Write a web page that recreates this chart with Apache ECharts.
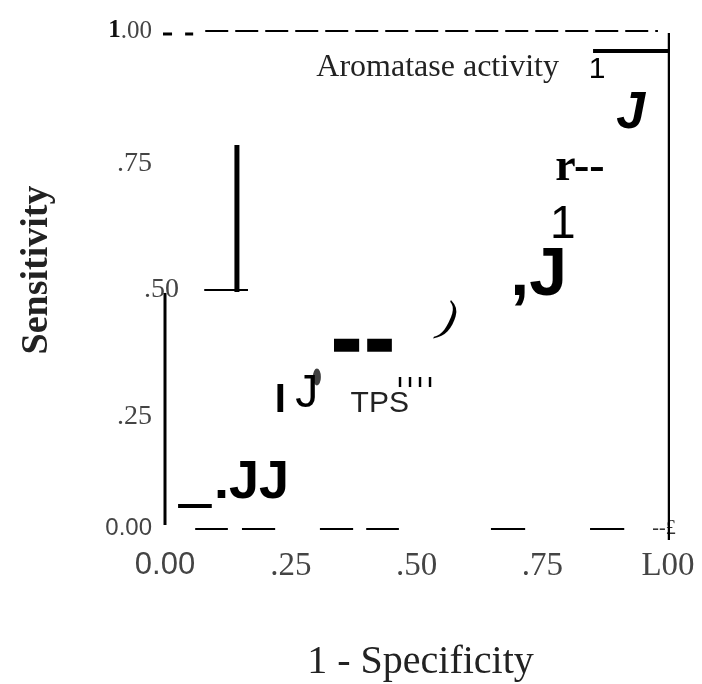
<!DOCTYPE html>
<html>
<head>
<meta charset="utf-8">
<script src="https://cdn.jsdelivr.net/npm/echarts@6/dist/echarts.min.js"></script>
<style>
  html, body { margin: 0; padding: 0; background: #fff; }
  #chart { width: 702px; height: 684px; }
</style>
</head>
<body>
<div id="chart"></div>
<script>
// tick labels as printed in the scan
const xTickLabels = ['0.00', '.25', '.50', '.75', 'L00'];
const yTickLabels = ['0.00', '.25', '.50', '.75', '1.00'];

// step pieces of the curve [x, y]
const stemLeft = [[0, 0.008], [0, 0.474]];
const baseDash = [[0.026, 0.046], [0.093, 0.046]];
const stemMid = [[0.143, 0.476], [0.143, 0.771]];
const shelfMid = [[0.078, 0.480], [0.165, 0.480]];
const thickDashA = [[0.336, 0.369], [0.386, 0.369]];
const thickDashB = [[0.402, 0.369], [0.451, 0.369]];
const stemRight = [[1.002, -0.022], [1.002, 0.996]];
const topBar = [[0.851, 0.960], [1.012, 0.960]];
const topTick = [[1.006, 0.988], [1.020, 0.988]];
const topShortA = [[-0.004, 0.994], [0.014, 0.994]];
const topShortB = [[0.040, 0.994], [0.056, 0.994]];
const topDashed = [[0.080, 1], [0.980, 1]];
// bottom reference dashes, x start / end at y = 0
const bottomDashes = [[0.060, 0.125], [0.153, 0.219], [0.308, 0.374], [0.400, 0.465], [0.648, 0.716], [0.845, 0.913]];

// broken glyphs left by the scan
const glyphText = ['.JJ', 'I', 'J', 'TPS', 'ı ı ı ı', ')', ',J', '1', 'r--', 'J', 'Aromatase activity', '1', '--£'];
const glyphX = [0.172, 0.229, 0.282, 0.427, 0.497, 0.563, 0.743, 0.791, 0.825, 0.926, 0.542, 0.859, 0.992];
const glyphY = [0.093, 0.257, 0.271, 0.251, 0.296, 0.420, 0.508, 0.610, 0.725, 0.834, 0.926, 0.922, 0.0];
const blob = [[0.302, 0.305]];

const sans = 'Liberation Sans';
const serif = 'Liberation Serif';
const glyphStyle = [
    { fontFamily: sans, fontSize: 54, fontWeight: 'bold' },
    { fontFamily: sans, fontSize: 40, fontWeight: 'bold' },
    { fontFamily: sans, fontSize: 46 },
    { fontFamily: sans, fontSize: 30, color: '#222' },
    { fontFamily: sans, fontSize: 18, fontWeight: 'bold' },
    { fontFamily: serif, fontSize: 46, fontStyle: 'italic' },
    { fontFamily: sans, fontSize: 68, fontWeight: 'bold' },
    { fontFamily: sans, fontSize: 46 },
    { fontFamily: serif, fontSize: 46, fontWeight: 'bold' },
    { fontFamily: sans, fontSize: 52, fontWeight: 'bold', fontStyle: 'italic' },
    { fontFamily: serif, fontSize: 32, color: '#222' },
    { fontFamily: sans, fontSize: 30 },
    { fontFamily: serif, fontSize: 20, color: '#333' }
];

function seg(points, width, type) {
    return {
        type: 'line',
        data: points,
        symbol: 'none',
        clip: false,
        silent: true,
        lineStyle: { color: '#000', width: width, type: type || 'solid', cap: 'butt' }
    };
}

let el = document.getElementById('chart');
let myChart = echarts.init(el);
let option;

let series = [
    seg(stemLeft, 3),
    seg(baseDash, 4),
    seg(stemMid, 5),
    seg(shelfMid, 2),
    seg(thickDashA, 13),
    seg(thickDashB, 13),
    seg(stemRight, 2.5),
    seg(topBar, 4),
    seg(topTick, 2),
    seg(topShortA, 3),
    seg(topShortB, 3),
    seg(topDashed, 2, [23, 7])
];
bottomDashes.forEach(function (d) {
    series.push(seg([[d[0], 0], [d[1], 0]], 2));
});

series.push({
    type: 'scatter',
    clip: false,
    silent: true,
    symbolSize: 0.1,
    itemStyle: { color: '#000' },
    data: glyphText.map(function (t, i) {
        return {
            value: [glyphX[i], glyphY[i]],
            label: Object.assign({
                show: true,
                position: 'inside',
                align: 'center',
                verticalAlign: 'middle',
                color: '#000',
                textBorderWidth: 0,
                opacity: 1,
                formatter: t
            }, glyphStyle[i], i === 5 ? { rotate: -15 } : {})
        };
    })
});
series.push({
    type: 'scatter',
    clip: false,
    silent: true,
    symbol: 'circle',
    symbolSize: [8, 17],
    itemStyle: { color: '#111' },
    data: blob
});

option = {
    animation: false,
    backgroundColor: '#fff',
    grid: {
        left: 165,
        right: 34,
        top: 31,
        bottom: 155,
        containLabel: false,
        outerBoundsMode: 'none'
    },
    xAxis: {
        type: 'value',
        min: 0,
        max: 1,
        interval: 0.25,
        axisLine: { show: false },
        axisTick: { show: false },
        splitLine: { show: false },
        name: '1 - Specificity',
        nameLocation: 'middle',
        nameGap: 113,
        nameTextStyle: { fontFamily: serif, fontSize: 40, color: '#222', padding: [0, 0, 0, 8] },
        axisLabel: {
            margin: 21,
            color: '#444',
            formatter: function (value) {
                let i = Math.round(value * 4);
                return (i === 0 ? '{s|' : '{t|') + xTickLabels[i] + '}';
            },
            rich: {
                s: { fontFamily: sans, fontSize: 31, color: '#444' },
                t: { fontFamily: serif, fontSize: 33, color: '#444' }
            }
        }
    },
    yAxis: {
        type: 'value',
        min: 0,
        max: 1,
        interval: 0.25,
        axisLine: { show: false },
        axisTick: { show: false },
        splitLine: { show: false },
        name: 'Sensitivity',
        nameLocation: 'middle',
        nameRotate: 90,
        nameGap: 109,
        nameTextStyle: { fontFamily: serif, fontSize: 38, fontWeight: 'bold', color: '#222', padding: [0, 0, 0, 20] },
        axisLabel: {
            margin: -14,
            color: '#444',
            formatter: function (value) {
                let i = Math.round(value * 4);
                if (i === 4) {
                    return '{b|1}{o|.00}';
                }
                let key = ['z', 'm', 'h', 'n'][i];
                return '{' + key + '|' + yTickLabels[i] + '}';
            },
            rich: {
                z: { fontFamily: sans, fontSize: 24, color: '#444', padding: [0, 27, 2, 0] },
                m: { fontFamily: serif, fontSize: 28, color: '#444', padding: [24, 27, 0, 0] },
                n: { fontFamily: serif, fontSize: 28, color: '#444', padding: [17, 27, 0, 0] },
                h: { fontFamily: serif, fontSize: 28, color: '#444', padding: [20, 0, 0, 0] },
                b: { fontFamily: serif, fontSize: 25, color: '#111', fontWeight: 'bold', padding: [0, 0, 0, 0] },
                o: { fontFamily: serif, fontSize: 25, color: '#444', padding: [0, 27, 0, 0] }
            }
        }
    },
    series: series
};

myChart.setOption(option);
</script>
</body>
</html>
